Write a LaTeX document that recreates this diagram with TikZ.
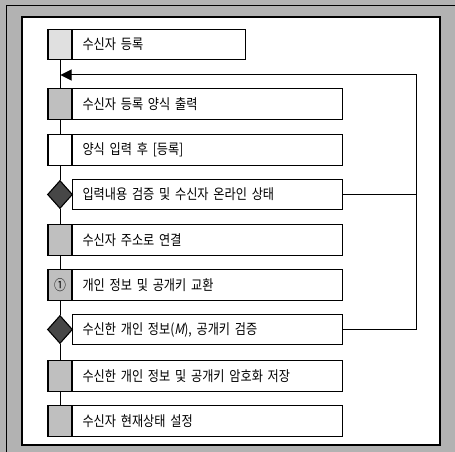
\documentclass[tikz,border=0pt]{standalone}
\usepackage{fontspec}
\usetikzlibrary{shapes.geometric,arrows.meta}
\newfontfamily\kr{Noto Sans CJK KR}[FakeStretch=0.85,WordSpace=2.2]
\newfontfamily\krit{Noto Sans CJK KR}[FakeStretch=0.85,FakeSlant=0.2]
\tikzset{
  box/.style={draw, line width=1.1pt, minimum height=30.5pt, inner xsep=10pt, inner ysep=0pt,
    anchor=west, align=left, font=\kr\fontsize{14.3}{16}\selectfont},
  marker/.style={draw, line width=1.1pt, minimum width=24pt, minimum height=30.5pt, inner sep=0pt, fill=black!25},
  dia/.style={draw, diamond, line width=1.1pt, minimum width=25pt, minimum height=28pt, inner sep=0pt, fill=black!72},
  link/.style={line width=1pt},
}
\begin{document}
\begin{tikzpicture}[x=1pt,y=-1pt]
\useasboundingbox (0,0) rectangle (455,452);
\fill[black!30] (0,0) rectangle (455,452);
\draw[line width=1pt] (6,452) -- (6,6) -- (455,6);
\draw[line width=1.8pt, fill=white] (22,17) rectangle (440,445);
% boxes
\node[box, text width=153pt] (b1) at (72,44.5) {수신자 등록};
\node[box, text width=250pt] (b2) at (72,104) {수신자 등록 양식 출력};
\node[box, text width=250pt] (b3) at (72,150) {양식 입력 후 [등록]};
\node[box, text width=250pt] (b4) at (72,194.5) {입력내용 검증 및 수신자 온라인 상태};
\node[box, text width=250pt] (b5) at (72,240) {수신자 주소로 연결};
\node[box, text width=250pt] (b6) at (72,285) {개인 정보 및 공개키 교환};
\node[box, text width=250pt] (b7) at (72,329.5) {수신한 개인 정보({\krit M}), 공개키 검증};
\node[box, text width=250pt] (b8) at (72,376) {수신한 개인 정보 및 공개키 암호화 저장};
\node[box, text width=250pt] (b9) at (72,421) {수신자 현재상태 설정};
% markers
\node[marker, fill=black!12] (m1) at (60,44.5) {};
\node[marker] (m2) at (60,104) {};
\node[marker, fill=white] (m3) at (60,150) {};
\node[dia] (m4) at (60,194.5) {};
\node[marker] (m5) at (60,240) {};
\node[marker, font=\kr\fontsize{14}{14}\selectfont] (m6) at (60,285) {①};
\node[dia] (m7) at (60,329.5) {};
\node[marker] (m8) at (60,376) {};
\node[marker] (m9) at (60,421) {};
% sequence line
\coordinate (j) at (60,75);
\draw[link] (m1.south) -- (m2.north);
\draw[link] (m2.south) -- (m3.north);
\draw[link] (m3.south) -- (m4.north);
\draw[link] (m4.south) -- (m5.north);
\draw[link] (m5.south) -- (m6.north);
\draw[link] (m6.south) -- (m7.north);
\draw[link] (m7.south) -- (m8.north);
\draw[link] (m8.south) -- (m9.north);
% feedback
\coordinate (r) at (416,75);
\draw[link] (b4.east) -- (b4.east -| r);
\draw[link, -{Triangle[length=11pt,width=11pt]}] (b7.east) -- (b7.east -| r) -- (r) -- ([xshift=0.5pt]j);
\end{tikzpicture}
\end{document}
